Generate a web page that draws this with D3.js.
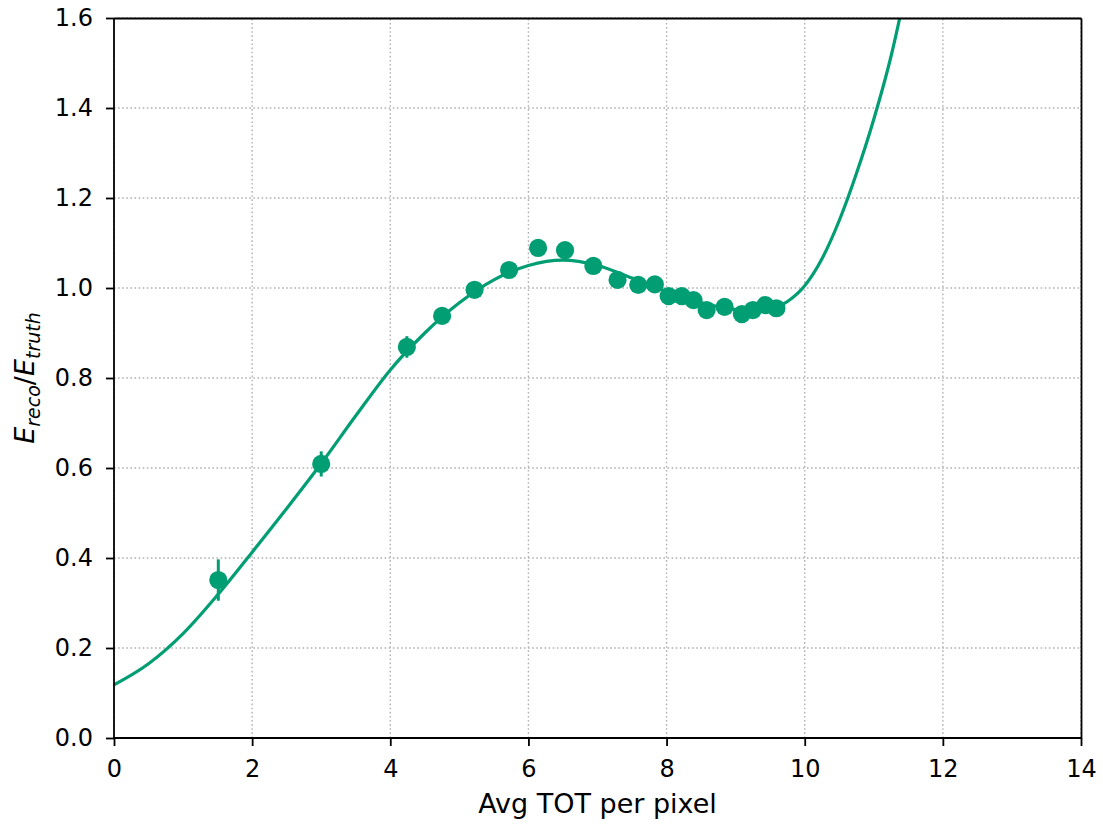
<!DOCTYPE html>
<html>
<head>
<meta charset="utf-8">
<script src="https://cdn.jsdelivr.net/npm/d3@7"></script>
<style>
  html, body { margin: 0; padding: 0; background: #fff; }
  svg { display: block; font-family: "DejaVu Sans", sans-serif; }
</style>
</head>
<body>
<svg id="chart" width="1103" height="825"></svg>
<script>
// Measured data points
const xData = [1.51, 3.00, 4.24, 4.75, 5.22, 5.72, 6.14, 6.53, 6.94, 7.29, 7.59, 7.83, 8.03, 8.22, 8.39, 8.58, 8.84, 9.09, 9.25, 9.43, 9.59];
const yData = [0.351, 0.609, 0.869, 0.938, 0.996, 1.040, 1.089, 1.084, 1.049, 1.018, 1.007, 1.008, 0.982, 0.982, 0.973, 0.951, 0.958, 0.942, 0.951, 0.962, 0.955];
const yErr  = [0.046, 0.028, 0.024, 0.012, 0.012, 0.012, 0.012, 0.012, 0.012, 0.012, 0.012, 0.012, 0.012, 0.012, 0.012, 0.012, 0.012, 0.012, 0.012, 0.012, 0.012];

// Fit curve
const curveX = [0, 0.5, 1.0, 1.5, 2.0, 2.5, 3.0, 3.5, 4.0, 4.5, 5.0, 5.5, 6.0, 6.5, 7.0, 7.5, 8.0, 8.5, 9.0, 9.25, 9.5, 9.75, 10.0, 10.25, 10.5, 10.75, 11.0, 11.25, 11.5];
const curveY = [0.118, 0.165, 0.232, 0.318, 0.413, 0.510, 0.610, 0.716, 0.818, 0.900, 0.967, 1.018, 1.050, 1.062, 1.050, 1.022, 0.992, 0.967, 0.952, 0.947, 0.952, 0.970, 1.005, 1.065, 1.150, 1.255, 1.375, 1.515, 1.690];

const xTicks = [0, 2, 4, 6, 8, 10, 12, 14];
const yTicks = [0.0, 0.2, 0.4, 0.6, 0.8, 1.0, 1.2, 1.4, 1.6];
const xLabel = "Avg TOT per pixel";

const color = "#029e73";
const W = 1103, H = 825;
const margin = {left: 114, right: W - 1081, top: 18, bottom: H - 738};

const svg = d3.select("#chart");
svg.append("rect").attr("width", W).attr("height", H).attr("fill", "#fff");

const x = d3.scaleLinear().domain([0, 14]).range([margin.left, W - margin.right]);
const y = d3.scaleLinear().domain([0, 1.6]).range([H - margin.bottom, margin.top]);

svg.append("clipPath").attr("id", "clip").append("rect")
  .attr("x", x(0)).attr("y", y(1.6)).attr("width", x(14) - x(0)).attr("height", y(0) - y(1.6));

// grid
const grid = svg.append("g");
grid.selectAll(".gx").data(xTicks).enter().append("line")
  .attr("x1", d => x(d)).attr("x2", d => x(d))
  .attr("y1", y(0)).attr("y2", y(1.6))
  .attr("stroke", "#b0b0b0").attr("stroke-width", 1.4).attr("stroke-dasharray", "1.6,2.5");
grid.selectAll(".gy").data(yTicks).enter().append("line")
  .attr("x1", x(0)).attr("x2", x(14))
  .attr("y1", d => y(d)).attr("y2", d => y(d))
  .attr("stroke", "#b0b0b0").attr("stroke-width", 1.4).attr("stroke-dasharray", "1.6,2.5");

// curve
const curvePts = curveX.map((d, i) => [d, curveY[i]]);
svg.append("path").datum(curvePts)
  .attr("clip-path", "url(#clip)")
  .attr("d", d3.line().x(d => x(d[0])).y(d => y(d[1])).curve(d3.curveMonotoneX))
  .attr("fill", "none").attr("stroke", color).attr("stroke-width", 3.2);

// error bars
const pts = xData.map((d, i) => ({x: d, y: yData[i], e: yErr[i]}));
svg.append("g").selectAll("line").data(pts).enter().append("line")
  .attr("x1", d => x(d.x)).attr("x2", d => x(d.x))
  .attr("y1", d => y(d.y - d.e)).attr("y2", d => y(d.y + d.e))
  .attr("stroke", color).attr("stroke-width", 3);

// markers
svg.append("g").selectAll("circle").data(pts).enter().append("circle")
  .attr("cx", d => x(d.x)).attr("cy", d => y(d.y)).attr("r", 9.1)
  .attr("fill", color);

// axes
const axB = svg.append("g").attr("transform", `translate(0,${y(0)})`)
  .call(d3.axisBottom(x).tickValues(xTicks).tickFormat(d3.format("d")).tickSize(8).tickPadding(14));
const axL = svg.append("g").attr("transform", `translate(${x(0)},0)`)
  .call(d3.axisLeft(y).tickValues(yTicks).tickFormat(d3.format(".1f")).tickSize(8).tickPadding(13));
const axT = svg.append("g").attr("transform", `translate(0,${y(1.6)})`)
  .call(d3.axisTop(x).tickValues([]).tickSizeOuter(0));
const axR = svg.append("g").attr("transform", `translate(${x(14)},0)`)
  .call(d3.axisRight(y).tickValues([]).tickSizeOuter(0));
[axB, axL, axT, axR].forEach(a => {
  a.attr("font-size", null).attr("font-family", null);
  a.select(".domain").attr("stroke", "#000").attr("stroke-width", 1.8);
  a.selectAll(".tick line").attr("stroke", "#000").attr("stroke-width", 1.8);
  a.selectAll(".tick text").style("font-size", "24px").attr("fill", "#000")
    .style("font-family", "'DejaVu Sans', sans-serif");
});
axB.select(".domain").attr("d", `M${x(0)},0H${x(14)}`);
axL.select(".domain").attr("d", `M0,${y(0)}V${y(1.6)}`);

// x label
svg.append("text").attr("x", (x(0) + x(14)) / 2).attr("y", 813)
  .attr("text-anchor", "middle").style("font-size", "27px").attr("fill", "#000")
  .text(xLabel);

// y label
const yl = svg.append("text")
  .attr("transform", `translate(34,${(y(0) + y(1.6)) / 2}) rotate(-90)`)
  .attr("text-anchor", "middle").style("font-size", "27px").attr("fill", "#000");
yl.append("tspan").attr("font-style", "italic").text("E");
yl.append("tspan").attr("font-style", "italic").style("font-size", "19px").attr("dy", 6).text("reco");
yl.append("tspan").attr("dy", -6).text("/");
yl.append("tspan").attr("font-style", "italic").text("E");
yl.append("tspan").attr("font-style", "italic").style("font-size", "19px").attr("dy", 6).text("truth");
</script>
</body>
</html>
